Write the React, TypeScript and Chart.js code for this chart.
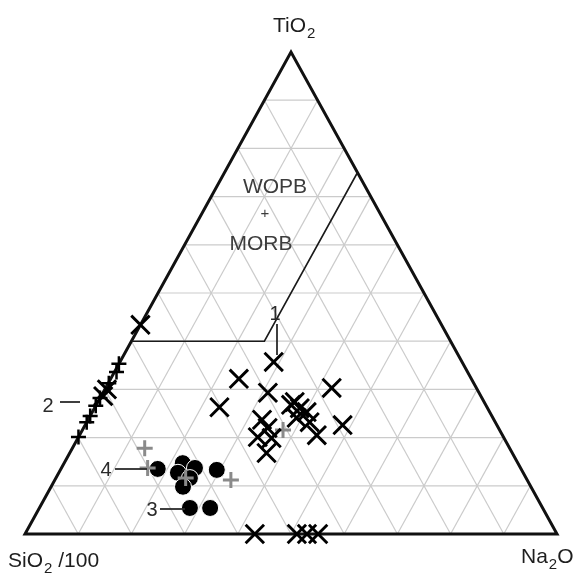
import React, { useEffect, useRef } from "react";
import { Chart, registerables } from "chart.js";

Chart.register(...registerables);

// Ternary compositions in percent. SiO2/100 = 100 - TiO2 - Na2O
const crossTiO2 = [43.4, 35.7, 32.2, 29.3, 26.3, 30.3, 22.6, 26.8, 26.1, 25.3, 24.1, 23.2, 20.5, 23.7, 20.1, 19.9, 16.8, 22.0, 27.4, 0, 0, 0, 0, 30.0, 28.6];
const crossNa2O = [0.0, 28.9, 24.1, 31.0, 23.4, 42.5, 48.4, 36.6, 38.6, 40.3, 39.0, 41.9, 44.6, 32.7, 33.7, 36.4, 37.0, 34.6, 37.0, 43.2, 51.1, 53.0, 55.1, 0.4, 0.4];

const edgePlusTiO2 = [35.3, 33.6, 31.3, 28.2, 26.6, 24.5, 23.2, 20.1];
const edgePlusNa2O = [0.0, 0.4, 0.1, 0.0, 0.0, 0.0, 0.0, 0.0];

const greyPlusTiO2 = [17.8, 13.7, 11.6, 11.2, 21.6];
const greyPlusNa2O = [13.6, 16.2, 24.4, 33.1, 37.7];

const dotTiO2 = [13.5, 14.7, 13.7, 12.7, 11.6, 9.8, 13.3, 5.4, 5.4];
const dotNa2O = [18.2, 22.3, 25.1, 22.4, 25.2, 24.8, 29.4, 28.3, 32.1];

// Field boundary (WOPB + MORB)
const fieldTiO2 = [40, 40, 75];
const fieldNa2O = [0, 25, 25];

const gridSteps = [10, 20, 30, 40, 50, 60, 70, 80, 90];

const toXY = (ti: number, na: number) => ({ x: (na + ti / 2) / 100, y: ti / 100 });
const pts = (ti: number[], na: number[]) => ti.map((t, i) => toXY(t, na[i]));

const FONT = "'Liberation Sans', Arial, sans-serif";

const ternaryPlugin = {
  id: "ternary",
  beforeDatasetsDraw(chart: any) {
    const { ctx, scales } = chart;
    const sx = scales.x, sy = scales.y;
    const P = (ti: number, na: number) => {
      const p = toXY(ti, na);
      return [sx.getPixelForValue(p.x), sy.getPixelForValue(p.y)];
    };
    const seg = (a: number[], b: number[]) => {
      ctx.beginPath();
      ctx.moveTo(a[0], a[1]);
      ctx.lineTo(b[0], b[1]);
      ctx.stroke();
    };
    ctx.save();
    ctx.strokeStyle = "#cbcbcb";
    ctx.lineWidth = 1.2;
    for (const k of gridSteps) {
      seg(P(k, 0), P(k, 100 - k));
      seg(P(0, k), P(100 - k, k));
      seg(P(0, 100 - k), P(100 - k, 0));
    }
    ctx.strokeStyle = "#111";
    ctx.lineWidth = 3;
    ctx.lineJoin = "miter";
    const a = P(0, 0), b = P(0, 100), c = P(100, 0);
    ctx.beginPath();
    ctx.moveTo(a[0], a[1]);
    ctx.lineTo(b[0], b[1]);
    ctx.lineTo(c[0], c[1]);
    ctx.closePath();
    ctx.stroke();
    ctx.restore();
  },
  afterDatasetsDraw(chart: any) {
    const { ctx } = chart;
    ctx.save();
    ctx.fillStyle = "#1e1e1e";
    ctx.textBaseline = "alphabetic";
    const big = "21px " + FONT;
    const sub = "15px " + FONT;
    // Axis titles
    ctx.font = big;
    ctx.textAlign = "left";
    let x = 273;
    ctx.fillText("TiO", x, 32);
    x += ctx.measureText("TiO").width;
    ctx.font = sub;
    ctx.fillText("2", x + 1, 38);

    ctx.font = big;
    x = 8;
    ctx.fillText("SiO", x, 567);
    x += ctx.measureText("SiO").width;
    ctx.font = sub;
    ctx.fillText("2", x + 1, 573);
    x += ctx.measureText("2").width + 1;
    ctx.font = big;
    ctx.fillText(" /100", x, 567);

    x = 521;
    ctx.fillText("Na", x, 563);
    x += ctx.measureText("Na").width;
    ctx.font = sub;
    ctx.fillText("2", x + 1, 569);
    x += ctx.measureText("2").width + 1;
    ctx.font = big;
    ctx.fillText("O", x, 563);

    // Field labels
    ctx.fillStyle = "#3c3c3c";
    ctx.textAlign = "center";
    ctx.font = "21px " + FONT;
    ctx.fillText("WOPB", 275, 193);
    ctx.fillText("MORB", 261, 250);
    ctx.font = "15px " + FONT;
    ctx.fillText("+", 265, 218);

    // Group labels with leader lines
    ctx.fillStyle = "#2a2a2a";
    ctx.strokeStyle = "#2a2a2a";
    ctx.font = "20px " + FONT;
    ctx.fillText("1", 275, 320);
    ctx.fillText("2", 48, 412);
    ctx.fillText("4", 106, 476);
    ctx.fillText("3", 152, 516);
    ctx.lineWidth = 1.8;
    const seg = (x1: number, y1: number, x2: number, y2: number) => {
      ctx.beginPath();
      ctx.moveTo(x1, y1);
      ctx.lineTo(x2, y2);
      ctx.stroke();
    };
    seg(277, 324, 277, 355);
    seg(60, 402, 80, 402);
    seg(115, 469, 147, 469);
    seg(160, 509, 185, 509);
    ctx.restore();
  },
};

export default function App() {
  const ref = useRef<HTMLCanvasElement>(null);
  useEffect(() => {
    if (!ref.current) return;
    const chart = new Chart(ref.current, {
      type: "scatter",
      data: {
        datasets: [
          {
            label: "cross",
            data: pts(crossTiO2, crossNa2O),
            pointStyle: "crossRot",
            pointRadius: 13,
            pointBorderWidth: 2.9,
            pointBorderColor: "#000",
            pointBackgroundColor: "#000",
            clip: false,
          } as any,
          {
            label: "edge plus",
            data: pts(edgePlusTiO2, edgePlusNa2O),
            pointStyle: "cross",
            pointRadius: 7.5,
            pointBorderWidth: 2.5,
            pointBorderColor: "#000",
            pointBackgroundColor: "#000",
            clip: false,
          },
          {
            label: "grey plus",
            data: pts(greyPlusTiO2, greyPlusNa2O),
            pointStyle: "cross",
            pointRadius: 8,
            pointBorderWidth: 3,
            pointBorderColor: "#8a8a8a",
            pointBackgroundColor: "#8a8a8a",
            clip: false,
          },
          {
            label: "dots",
            data: pts(dotTiO2, dotNa2O),
            pointStyle: "circle",
            pointRadius: 8.5,
            pointBorderWidth: 1,
            pointBorderColor: "#fff",
            pointBackgroundColor: "#000",
            clip: false,
          },
          {
            label: "field",
            data: pts(fieldTiO2, fieldNa2O),
            showLine: true,
            borderColor: "#1a1a1a",
            borderWidth: 1.6,
            pointRadius: 0,
            fill: false,
            clip: false,
          } as any,
        ],
      },
      options: {
        animation: false,
        responsive: false,
        events: [],
        layout: { padding: { left: 25, right: 21, top: 52, bottom: 41 } },
        scales: {
          x: { type: "linear", min: 0, max: 1, display: false },
          y: { type: "linear", min: 0, max: 1, display: false },
        },
        plugins: {
          legend: { display: false },
          tooltip: { enabled: false },
        },
      },
      plugins: [ternaryPlugin],
    });
    return () => chart.destroy();
  }, []);
  return (
    <div style={{ position: "fixed", left: 0, top: 0, width: 578, height: 575, background: "#fff" }}>
      <canvas ref={ref} width={578} height={575} style={{ display: "block" }} />
    </div>
  );
}
